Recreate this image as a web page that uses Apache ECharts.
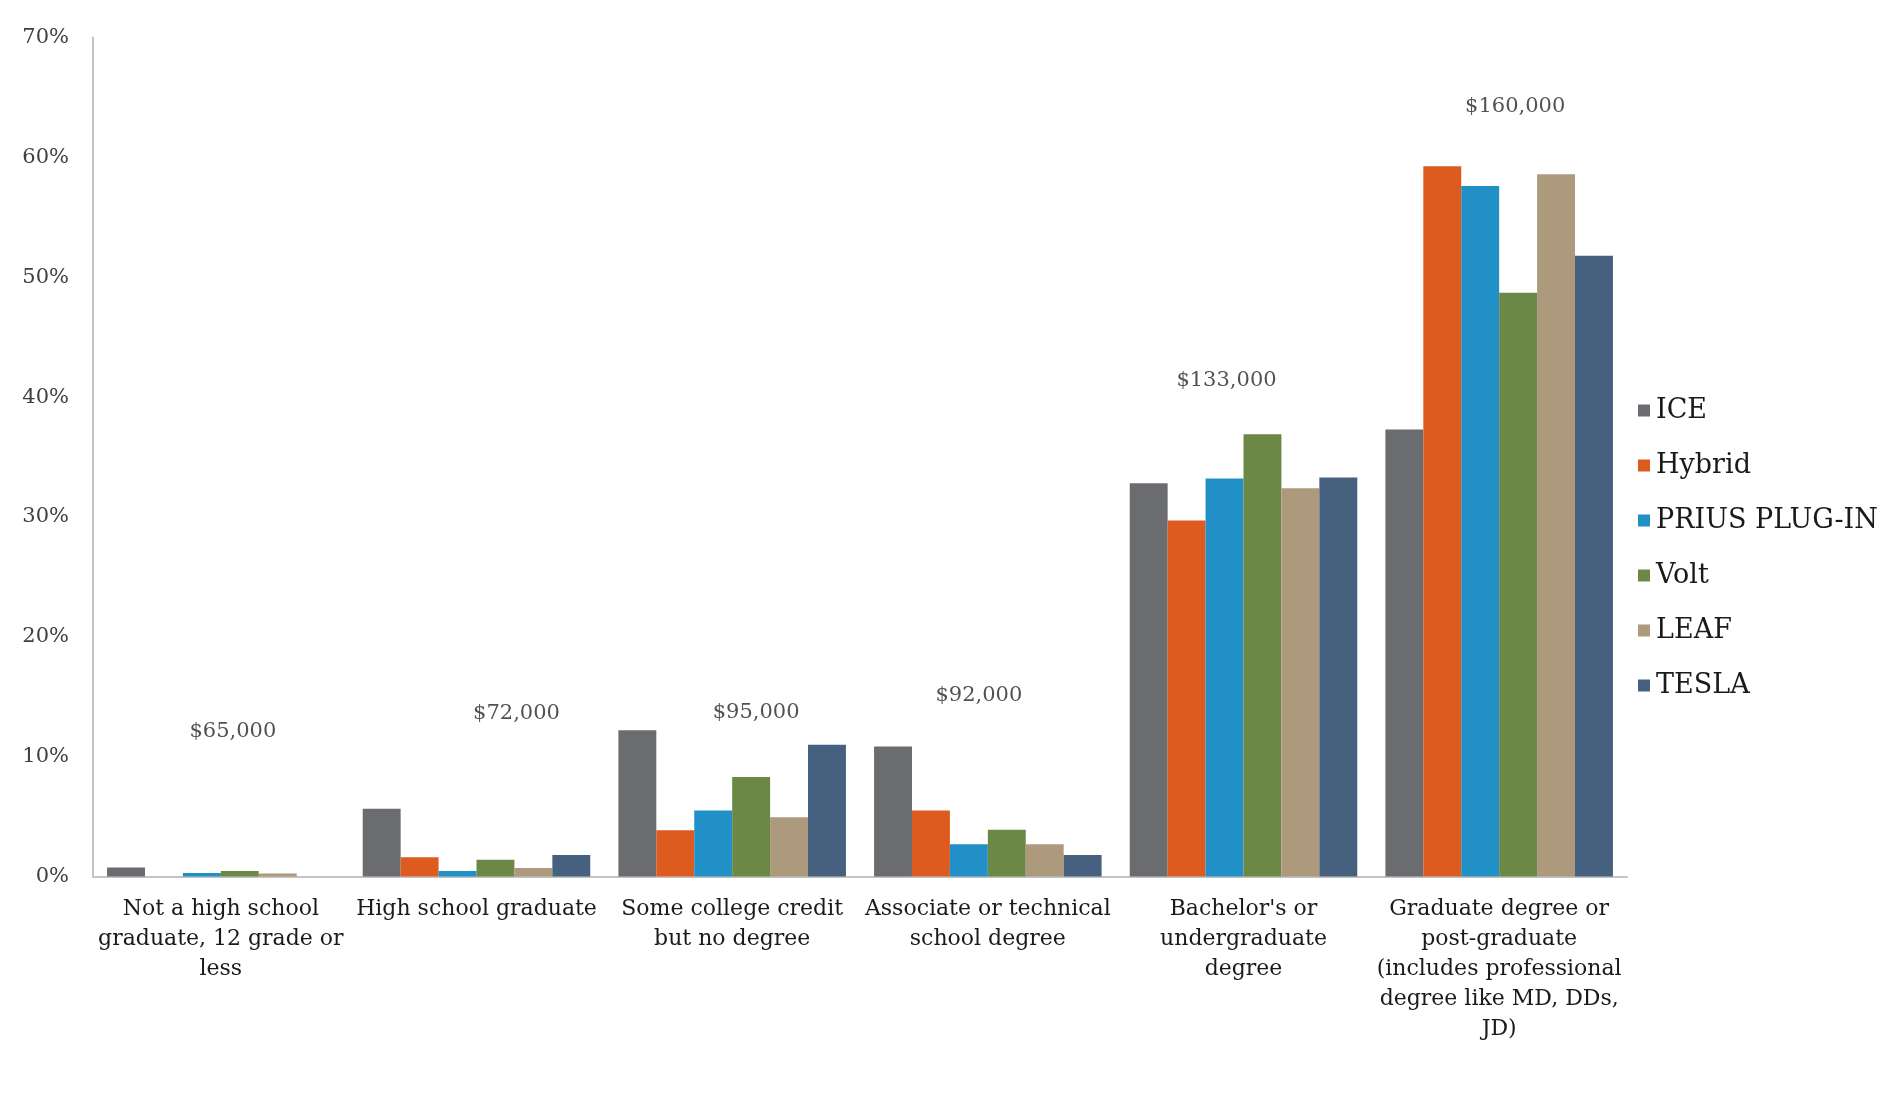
<!DOCTYPE html>
<html>
<head>
<meta charset="utf-8">
<script src="https://cdn.jsdelivr.net/npm/echarts@6/dist/echarts.min.js"></script>
<style>
  html, body { margin: 0; padding: 0; background: #fff; }
  #chart { width: 1900px; height: 1099px; }
</style>
</head>
<body>
<div id="chart"></div>
<script>
// categories (education level)
var categories = [
  'Not a high school\ngraduate, 12 grade or\nless',
  'High school graduate',
  'Some college credit\nbut no degree',
  'Associate or technical\nschool degree',
  "Bachelor's or\nundergraduate\ndegree",
  'Graduate degree or\npost-graduate\n(includes professional\ndegree like MD, DDs,\nJD)'
];

// share of owners per education level (%)
var ice    = [0.75, 5.65, 12.2, 10.85, 32.8, 37.3];
var hybrid = [0,    1.6,  3.85, 5.5,   29.7, 59.25];
var prius  = [0.3,  0.45, 5.5,  2.7,   33.2, 57.6];
var volt   = [0.45, 1.4,  8.3,  3.9,   36.9, 48.7];
var leaf   = [0.25, 0.7,  4.95, 2.7,   32.4, 58.6];
var tesla  = [0,    1.8,  11.0, 1.8,   33.3, 51.8];

// median household income per group
var incomes = ['$65,000', '$72,000', '$95,000', '$92,000', '$133,000', '$160,000'];

var yTicks = [0, 10, 20, 30, 40, 50, 60, 70];

var chart = echarts.init(document.getElementById('chart'));

// where the income annotations sit (axis units) and their horizontal nudge
var incomeAt = [12.1, 13.6, 13.7, 15.1, 41.4, 64.2];
var incomeShift = [12, 40, 24, -9, -17, 16];

var seriesDefs = [
  { name: 'ICE', data: ice, color: '#6b6c6f' },
  { name: 'Hybrid', data: hybrid, color: '#dd5b1f' },
  { name: 'PRIUS PLUG-IN', data: prius, color: '#2090c6' },
  { name: 'Volt', data: volt, color: '#6b8846' },
  { name: 'LEAF', data: leaf, color: '#ad9a7c' },
  { name: 'TESLA', data: tesla, color: '#46607f' }
];

var font = '"DejaVu Serif", "Liberation Serif", serif';

var series = seriesDefs.map(function (s) {
  return {
    name: s.name,
    type: 'bar',
    barGap: 0,
    barCategoryGap: '11%',
    itemStyle: { color: s.color },
    data: s.data
  };
});

series.push({
  name: 'income',
  type: 'scatter',
  symbolSize: 0,
  silent: true,
  data: incomes.map(function (t, i) {
    return {
      value: [i, incomeAt[i]],
      label: { offset: [incomeShift[i], 0] }
    };
  }),
  label: {
    show: true,
    position: 'inside',
    formatter: function (p) { return incomes[p.dataIndex]; },
    fontFamily: font,
    fontSize: 21,
    color: '#262626'
  }
});

var option = {
  backgroundColor: '#fff',
  animation: false,
  grid: {
    left: 93,
    right: 273,
    top: 37.5,
    bottom: 222.5
  },
  legend: {
    data: seriesDefs.map(function (s) { return s.name; }),
    orient: 'vertical',
    left: 1633,
    top: 392,
    icon: 'rect',
    itemWidth: 12,
    itemHeight: 12,
    itemGap: 28,
    textStyle: {
      fontFamily: font,
      fontSize: 27,
      lineHeight: 27,
      color: '#1a1a1a',
      padding: [0, 0, 0, 1]
    }
  },
  xAxis: {
    type: 'category',
    data: categories,
    axisLine: { lineStyle: { color: '#c4c4c4', width: 2 } },
    axisTick: { show: false },
    axisLabel: {
      interval: 0,
      margin: 18,
      fontFamily: font,
      fontSize: 22,
      lineHeight: 30,
      color: '#1a1a1a'
    }
  },
  yAxis: {
    type: 'value',
    min: yTicks[0],
    max: yTicks[yTicks.length - 1],
    interval: 10,
    splitLine: { show: false },
    axisLine: { show: true, lineStyle: { color: '#c4c4c4', width: 2 } },
    axisTick: { show: false },
    axisLabel: {
      margin: 24,
      fontFamily: font,
      fontSize: 21,
      color: '#3f3f3f',
      formatter: '{value}%'
    }
  },
  series: series
};

chart.setOption(option);
</script>
</body>
</html>
